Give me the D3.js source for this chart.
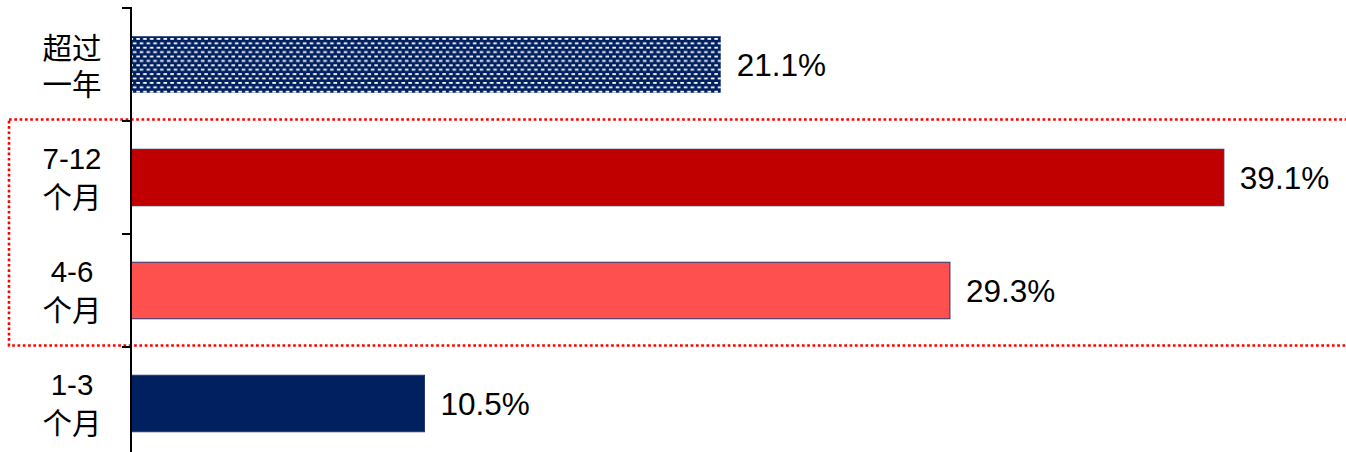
<!DOCTYPE html>
<html><head><meta charset="utf-8">
<script src="https://cdn.jsdelivr.net/npm/d3@7"></script>
<style>
html,body{margin:0;padding:0;background:#fff;}
svg{display:block;}
</style></head>
<body>
<svg id="chart" width="1346" height="452"></svg>
<script>
// Data
const categories = ["超过一年", "7-12个月", "4-6个月", "1-3个月"];
const labelLines = [["超过", "一年"], ["7-12", "个月"], ["4-6", "个月"], ["1-3", "个月"]];
const values = [21.1, 39.1, 29.3, 10.5];
const valueLabels = ["21.1%", "39.1%", "29.3%", "10.5%"];
const fills = ["url(#dashPat)", "#C00000", "#FF5050", "#002060"];

const svg = d3.select("#chart");
const W = 1346, H = 452;
const axisX = 131;

const y = d3.scaleBand().domain(categories).range([8, 460]).paddingInner(0.5).paddingOuter(0.25);
const x = d3.scaleLinear().domain([0, 40]).range([axisX, axisX + 40 * 27.95]);

// Pattern for top bar
const defs = svg.append("defs");
const pat = defs.append("pattern").attr("id", "dashPat").attr("patternUnits", "userSpaceOnUse")
  .attr("x", 0).attr("y", 37).attr("width", 6.8).attr("height", 8.8);
pat.append("rect").attr("width", 6.8).attr("height", 8.8).attr("fill", "#002060");
pat.append("rect").attr("x", 0.3).attr("y", 1.0).attr("width", 3.6).attr("height", 1.8).attr("fill", "#ffffff");
pat.append("rect").attr("x", 3.7).attr("y", 5.4).attr("width", 3.6).attr("height", 1.8).attr("fill", "#ffffff");
pat.append("rect").attr("x", -3.1).attr("y", 5.4).attr("width", 3.6).attr("height", 1.8).attr("fill", "#ffffff");

// Red dotted highlight rectangle around 7-12 and 4-6
const step = y.step();
const hiTop = y(categories[1]) - (step - y.bandwidth()) / 2;
const hiBot = y(categories[2]) + y.bandwidth() + (step - y.bandwidth()) / 2;
svg.append("rect")
  .attr("x", 9).attr("y", hiTop - 1.5)
  .attr("width", W + 20).attr("height", hiBot - hiTop)
  .attr("fill", "none").attr("stroke", "#FF0000").attr("stroke-width", 2.6)
  .attr("stroke-dasharray", "2.7,2.6");

// Bars
svg.selectAll("rect.bar").data(values).enter().append("rect")
  .attr("class", "bar")
  .attr("x", x(0))
  .attr("y", (d, i) => y(categories[i]))
  .attr("width", d => x(d) - x(0))
  .attr("height", y.bandwidth())
  .attr("fill", (d, i) => fills[i])
  .attr("stroke", (d, i) => i === 0 ? "none" : "#26356b")
  .attr("stroke-width", 1);

// Axis line and ticks at band boundaries
const g = svg.append("g");
g.append("line").attr("x1", axisX).attr("x2", axisX).attr("y1", 7).attr("y2", H)
  .attr("stroke", "#000").attr("stroke-width", 2);
const tickYs = categories.map(c => y(c) - (step - y.bandwidth()) / 2);
g.selectAll("line.tick").data(tickYs).enter().append("line")
  .attr("class", "tick")
  .attr("x1", axisX - 9).attr("x2", axisX).attr("y1", d => d).attr("y2", d => d)
  .attr("stroke", "#000").attr("stroke-width", 2);

// Category labels
const isCJK = s => /[\u4e00-\u9fff]/.test(s);
categories.forEach((c, i) => {
  const cy = y(c) + y.bandwidth() / 2;
  const t = svg.append("text").attr("x", 72).attr("text-anchor", "middle")
    .style("font-family", "'Liberation Sans', Arial, 'Noto Sans CJK SC', sans-serif")
    .style("font-size", "29.5px").attr("fill", "#000");
  labelLines[i].forEach((ln, j) => {
    const base = j === 0 ? (isCJK(ln) ? cy - 6 : cy - 9) : cy + 30;
    t.append("tspan").attr("x", 72).attr("y", base).text(ln);
  });
});

// Value labels
svg.selectAll("text.val").data(values).enter().append("text")
  .attr("class", "val")
  .attr("x", d => x(d) + 16)
  .attr("y", (d, i) => y(categories[i]) + y.bandwidth() / 2 + 11)
  .style("font-family", "'Liberation Sans', Arial, sans-serif")
  .style("font-size", "31.5px").attr("fill", "#000")
  .text((d, i) => valueLabels[i]);
</script>
</body></html>
